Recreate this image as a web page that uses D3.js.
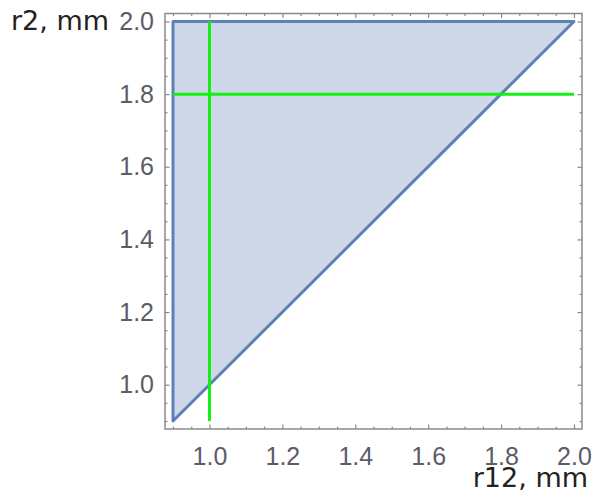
<!DOCTYPE html>
<html>
<head>
<meta charset="utf-8">
<script src="https://cdn.jsdelivr.net/npm/d3@7"></script>
<style>
  html, body { margin: 0; padding: 0; background: #fff; }
  svg { display: block; }
</style>
</head>
<body>
<svg id="chart" width="595" height="504"></svg>
<script>
// Feasible region: r12 and r2 both in [0.9, 2.0] with r2 >= r12
const regionR12 = [0.9, 0.9, 2.0];
const regionR2  = [0.9, 2.0, 2.0];

// Guide lines: r12 = 1.0 (vertical) and r2 = 1.8 (horizontal)
const guideR12 = 1.0;
const guideR2 = 1.8;
const guideSpan = [0.9, 2.0];

// Axis ticks
const majorTicks = [1.0, 1.2, 1.4, 1.6, 1.8, 2.0];
const minorTicks = [0.9, 0.95, 1.05, 1.1, 1.15, 1.25, 1.3, 1.35, 1.45, 1.5, 1.55,
                    1.65, 1.7, 1.75, 1.85, 1.9, 1.95];
const tickLabels = ["1.0", "1.2", "1.4", "1.6", "1.8", "2.0"];

const domain = [0.878, 2.022];
const frame = { left: 165, right: 582, top: 13.5, bottom: 429 };

const svg = d3.select("#chart");
const x = d3.scaleLinear().domain(domain).range([frame.left, frame.right]);
const y = d3.scaleLinear().domain(domain).range([frame.bottom, frame.top]);

// Region fill and boundary
const pts = regionR12.map((v, i) => [x(v), y(regionR2[i])]);
svg.append("path")
  .attr("d", d3.line()(pts) + "Z")
  .attr("fill", "#ced8e9")
  .attr("stroke", "#5e81b5")
  .attr("stroke-width", 3)
  .attr("stroke-linejoin", "round");

// Guide lines
const green = "#14f014";
svg.append("line")
  .attr("x1", x(guideR12)).attr("x2", x(guideR12))
  .attr("y1", y(guideSpan[0])).attr("y2", y(guideSpan[1]))
  .attr("stroke", green).attr("stroke-width", 3);
svg.append("line")
  .attr("x1", x(guideSpan[0])).attr("x2", x(guideSpan[1]))
  .attr("y1", y(guideR2)).attr("y2", y(guideR2))
  .attr("stroke", green).attr("stroke-width", 3);

// Frame
const frameColor = "#8a8a8a";
svg.append("rect")
  .attr("x", frame.left).attr("y", frame.top)
  .attr("width", frame.right - frame.left)
  .attr("height", frame.bottom - frame.top)
  .attr("fill", "none")
  .attr("stroke", frameColor)
  .attr("stroke-width", 1.5);

const labelFmt = d => tickLabels[majorTicks.indexOf(d)];

function styleAxis(g) {
  g.select(".domain").remove();
  g.selectAll(".tick line").attr("stroke", frameColor).attr("stroke-width", 1.2);
  g.selectAll("text")
    .attr("font-family", "'Liberation Sans', Arial, sans-serif")
    .attr("font-size", 25)
    .attr("fill", "#5c5c66");
}

// Bottom
svg.append("g").attr("transform", `translate(0,${frame.bottom})`)
  .call(d3.axisBottom(x).tickValues(majorTicks).tickFormat(labelFmt)
    .tickSize(-4.5).tickPadding(18))
  .call(styleAxis);
svg.append("g").attr("transform", `translate(0,${frame.bottom})`)
  .call(d3.axisBottom(x).tickValues(minorTicks).tickFormat("").tickSize(-2.5))
  .call(styleAxis);
// Top
svg.append("g").attr("transform", `translate(0,${frame.top})`)
  .call(d3.axisTop(x).tickValues(majorTicks).tickFormat("").tickSize(-4.5))
  .call(styleAxis);
svg.append("g").attr("transform", `translate(0,${frame.top})`)
  .call(d3.axisTop(x).tickValues(minorTicks).tickFormat("").tickSize(-2.5))
  .call(styleAxis);
// Left
svg.append("g").attr("transform", `translate(${frame.left},0)`)
  .call(d3.axisLeft(y).tickValues(majorTicks).tickFormat(labelFmt)
    .tickSize(-4.5).tickPadding(11))
  .call(styleAxis);
svg.append("g").attr("transform", `translate(${frame.left},0)`)
  .call(d3.axisLeft(y).tickValues(minorTicks).tickFormat("").tickSize(-2.5))
  .call(styleAxis);
// Right
svg.append("g").attr("transform", `translate(${frame.right},0)`)
  .call(d3.axisRight(y).tickValues(majorTicks).tickFormat("").tickSize(-4.5))
  .call(styleAxis);
svg.append("g").attr("transform", `translate(${frame.right},0)`)
  .call(d3.axisRight(y).tickValues(minorTicks).tickFormat("").tickSize(-2.5))
  .call(styleAxis);

// Axis titles
svg.append("text")
  .attr("x", 109).attr("y", 30)
  .attr("text-anchor", "end")
  .attr("font-family", "'DejaVu Sans', sans-serif")
  .attr("font-size", 27)
  .attr("fill", "#222")
  .text("r2, mm");
svg.append("text")
  .attr("x", 588).attr("y", 487)
  .attr("text-anchor", "end")
  .attr("font-family", "'DejaVu Sans', sans-serif")
  .attr("font-size", 27)
  .attr("fill", "#222")
  .text("r12, mm");
</script>
</body>
</html>
